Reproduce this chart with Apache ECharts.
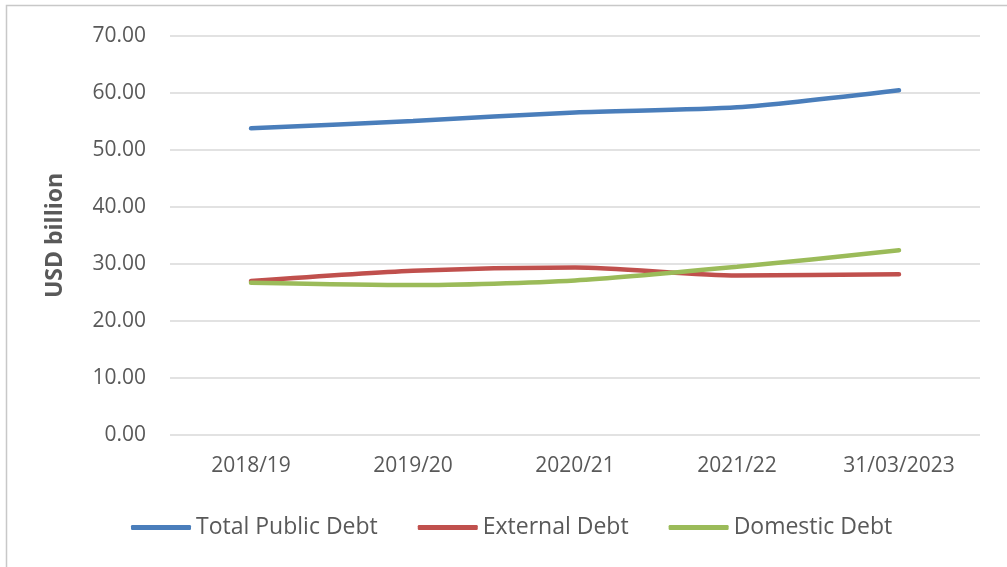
<!DOCTYPE html>
<html>
<head>
<meta charset="utf-8">
<script src="https://cdn.jsdelivr.net/npm/echarts@6/dist/echarts.min.js"></script>
<style>
  html, body { margin: 0; padding: 0; background: #ffffff; }
  #chart { width: 1007px; height: 567px; }
</style>
</head>
<body>
<div id="chart"></div>
<script>
// Public debt by period, USD billion
const periods = ['2018/19', '2019/20', '2020/21', '2021/22', '31/03/2023'];
const totalPublicDebt = [53.8, 55.1, 56.6, 57.5, 60.5];
const externalDebt = [27.0, 28.8, 29.4, 28.0, 28.2];
const domesticDebt = [26.7, 26.3, 27.1, 29.5, 32.4];
const seriesNames = ['Total Public Debt', 'External Debt', 'Domestic Debt'];
const seriesColors = ['#4A7EBB', '#C0504D', '#9BBB59'];

const fontFamily = '"Open Sans", "Noto Sans", sans-serif';
const textGray = '#595959';

const chart = echarts.init(document.getElementById('chart'), null, { renderer: 'canvas' });

function lineSeries(name, data, color) {
  return {
    name: name,
    type: 'line',
    data: data,
    smooth: 0.25,
    symbol: 'none',
    lineStyle: { width: 4.5, color: color, cap: 'round' },
    itemStyle: { color: color }
  };
}

chart.setOption({
  animation: false,
  backgroundColor: '#ffffff',
  graphic: [{
    type: 'rect',
    shape: { x: 6.5, y: 5.5, width: 1100, height: 600 },
    style: { fill: 'none', stroke: '#c8c8c8', lineWidth: 1.5 },
    silent: true
  }],
  grid: { left: 170, right: 27, top: 36, bottom: 132, containLabel: false },
  legend: {
    top: 511,
    left: 126,
    itemWidth: 60,
    itemHeight: 5,
    itemGap: 40,
    icon: 'roundRect',
    textStyle: { fontFamily: fontFamily, fontSize: 23, color: textGray },
    data: seriesNames
  },
  xAxis: {
    type: 'category',
    data: periods,
    boundaryGap: true,
    axisLine: { show: false },
    axisTick: { show: false },
    axisLabel: { fontFamily: fontFamily, fontSize: 21, color: textGray, margin: 21 }
  },
  yAxis: {
    type: 'value',
    min: 0,
    max: 70,
    interval: 10,
    name: 'USD billion',
    nameLocation: 'middle',
    nameGap: 103,
    nameTextStyle: { fontFamily: fontFamily, fontSize: 23, fontWeight: 'bold', color: textGray },
    axisLine: { show: false },
    axisTick: { show: false },
    splitLine: { lineStyle: { color: '#d9d9d9', width: 1.5 } },
    axisLabel: {
      fontFamily: fontFamily,
      fontSize: 21,
      color: textGray,
      margin: 24,
      formatter: v => v.toFixed(2)
    }
  },
  series: [
    lineSeries(seriesNames[0], totalPublicDebt, seriesColors[0]),
    lineSeries(seriesNames[1], externalDebt, seriesColors[1]),
    lineSeries(seriesNames[2], domesticDebt, seriesColors[2])
  ]
});
</script>
</body>
</html>
